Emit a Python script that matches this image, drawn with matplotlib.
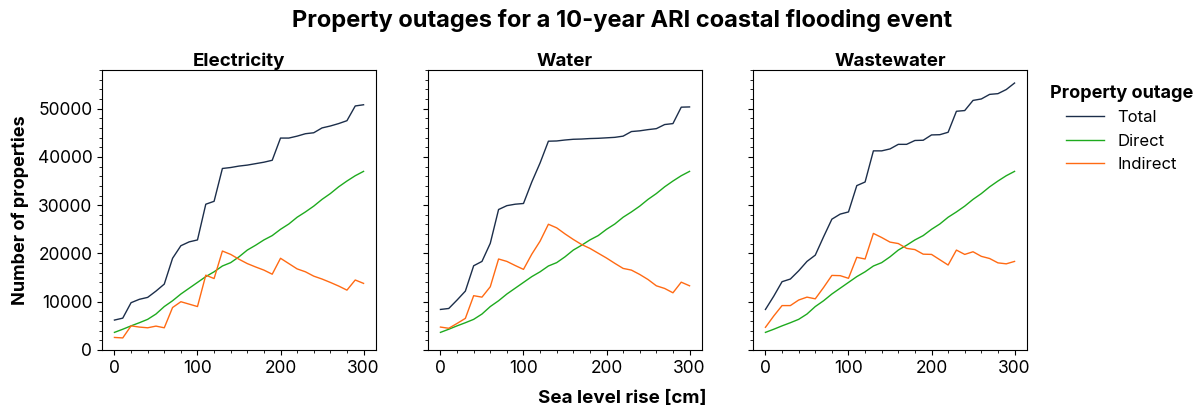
import numpy as np
import matplotlib.pyplot as plt
from matplotlib.ticker import AutoMinorLocator

plt.rcParams['font.family'] = ['Inter', 'DejaVu Sans']

# Sea level rise steps (cm)
slr_cm = list(range(0, 301, 10))

# Direct outages (same in every panel)
direct = [3650, 4300, 5000, 5650, 6350, 7450, 9000, 10200, 11600, 12800, 14000,
          15200, 16200, 17400, 18100, 19300, 20700, 21700, 22800, 23700, 25000,
          26100, 27500, 28600, 29800, 31200, 32400, 33800, 35000, 36100, 37000]

elec_total = [6200, 6600, 9800, 10500, 10900, 12200, 13650, 19000, 21600, 22400, 22800,
              30200, 30800, 37600, 37800, 38100, 38300, 38600, 38900, 39300, 43900,
              43900, 44300, 44800, 45000, 46000, 46400, 46900, 47500, 50550, 50800]
elec_indirect = [2600, 2500, 5000, 4750, 4600, 4950, 4600, 8800, 10000, 9500, 9000,
                 15500, 14800, 20500, 19800, 18800, 17900, 17200, 16550, 15700, 19000,
                 17900, 16800, 16200, 15300, 14700, 14000, 13250, 12400, 14500, 13800]

water_total = [8400, 8600, 10350, 12200, 17450, 18350, 22100, 29100, 29900, 30200, 30350,
               34800, 38750, 43250, 43300, 43500, 43650, 43700, 43800, 43850, 43950,
               44050, 44300, 45250, 45400, 45650, 45850, 46700, 46900, 50300, 50350]
water_indirect = [4750, 4500, 5500, 6550, 11250, 10950, 13100, 18850, 18350, 17500, 16700,
                  19850, 22550, 26050, 25300, 24050, 22900, 21850, 21050, 20050, 19050,
                  17950, 16900, 16550, 15650, 14600, 13300, 12750, 11850, 14050, 13300]

waste_total = [8400, 11150, 14150, 14700, 16400, 18350, 19650, 23450, 27100, 28150, 28600,
               34050, 34800, 41250, 41250, 41650, 42600, 42600, 43400, 43450, 44550,
               44600, 45100, 49450, 49600, 51700, 52000, 52950, 53100, 53950, 55300]
waste_indirect = [4700, 7050, 9200, 9200, 10350, 10950, 10600, 12950, 15450, 15400, 14850,
                  19200, 18850, 24150, 23300, 22350, 22050, 21050, 20800, 19850, 19800,
                  18700, 17600, 20700, 19800, 20350, 19400, 18950, 18050, 17850, 18350]

panels = ['Electricity', 'Water', 'Wastewater']
totals = [elec_total, water_total, waste_total]
indirects = [elec_indirect, water_indirect, waste_indirect]

c_total = '#1c2e4a'
c_direct = '#1eaa1e'
c_indirect = '#ff6a13'

fig = plt.figure(figsize=(12, 4.07), dpi=100)
lefts = [102, 428, 753]
axes = []
for i, name in enumerate(panels):
    ax = fig.add_axes([lefts[i] / 1200, 57 / 407, 274 / 1200, 280 / 407])
    axes.append(ax)
    ax.plot(slr_cm, totals[i], color=c_total, lw=1.0, label='Total')
    ax.plot(slr_cm, direct, color=c_direct, lw=1.0, label='Direct')
    ax.plot(slr_cm, indirects[i], color=c_indirect, lw=1.0, label='Indirect')
    ax.set_title(name, fontsize=13.5, fontweight='bold', pad=3)
    ax.set_xlim(-15, 315)
    ax.set_ylim(0, 58000)
    ax.set_xticks([0, 100, 200, 300])
    ax.set_yticks([0, 10000, 20000, 30000, 40000, 50000])
    ax.xaxis.set_minor_locator(AutoMinorLocator(5))
    ax.yaxis.set_minor_locator(AutoMinorLocator(5))
    ax.tick_params(labelsize=12.5)
    for s in ax.spines.values():
        s.set_linewidth(0.8)
    if i > 0:
        ax.set_yticklabels([])

axes[0].set_ylabel('Number of properties', fontsize=13, fontweight='bold', labelpad=6)

fig.text(622 / 1200, 0.022, 'Sea level rise [cm]', ha='center', va='center',
         fontsize=13.5, fontweight='bold')
fig.text(0.518, 0.95, 'Property outages for a 10-year ARI coastal flooding event',
         ha='center', va='center', fontsize=17, fontweight='bold')

handles, labels = axes[0].get_legend_handles_labels()
leg = fig.legend(handles, labels, loc='upper left', bbox_to_anchor=(1035 / 1200, 1 - 70 / 407),
                 frameon=False, fontsize=12, title='Property outage', handlelength=2.3,
                 labelspacing=0.5, title_fontproperties={'weight': 'bold', 'size': 13})

fig.savefig('out.png', dpi=100)
